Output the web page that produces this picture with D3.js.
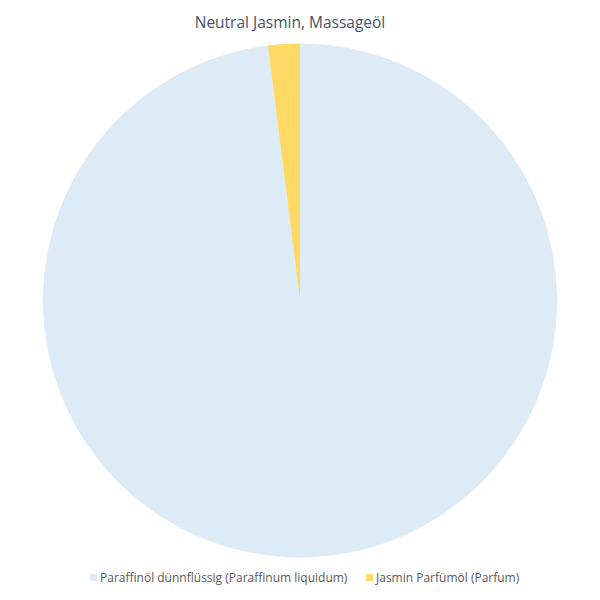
<!DOCTYPE html>
<html><head><meta charset="utf-8">
<script src="https://cdn.jsdelivr.net/npm/d3@7"></script>
<style>body{margin:0;background:#fff}</style>
</head><body>
<svg id="c" width="600" height="600"></svg>
<script>
const title = "Neutral Jasmin, Massageöl";
const categories = ["Paraffinöl dünnflüssig (Paraffinum liquidum)", "Jasmin Parfümöl (Parfum)"];
const values = [98, 2];
const colors = ["#DDEBF7", "#FFD966"];

const svg = d3.select("#c");
const font = "'Open Sans', sans-serif";
svg.append("rect").attr("width",600).attr("height",600).attr("fill","#fff");
svg.append("text").attr("x",290).attr("y",28).attr("text-anchor","middle")
  .attr("font-family",font).attr("font-size",15.5).attr("fill","#44546A").text(title);

const pie = d3.pie().sort(null);
const data = pie(values);
const arc = d3.arc().innerRadius(0).outerRadius(257);
const g = svg.append("g").attr("transform","translate(300,300.5)");
g.selectAll("path").data(data).join("path").attr("d",arc).attr("fill",(d,i)=>colors[i]);

const leg = svg.append("g").attr("font-family",font).attr("font-size",12).attr("fill","#595959");
const lx = [90, 366];
categories.forEach((c,i)=>{
  leg.append("rect").attr("x",lx[i]).attr("y",574).attr("width",7).attr("height",7).attr("fill",colors[i]);
  leg.append("text").attr("x",lx[i]+10).attr("y",582).text(c);
});
</script>
</body></html>
